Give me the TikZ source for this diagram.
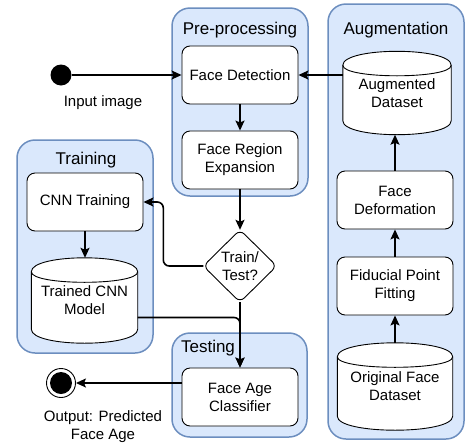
\documentclass[tikz,border=0pt]{standalone}
\usepackage{fontspec}
\setmainfont{Liberation Sans}
\usetikzlibrary{arrows.meta,calc}
\pgfdeclarelayer{bg}
\pgfdeclarelayer{mid}
\pgfsetlayers{bg,mid,main}
\definecolor{grpfill}{HTML}{DAE8FC}
\definecolor{grpdraw}{HTML}{6C8EBF}
\tikzset{
  grp/.style={draw=grpdraw, fill=grpfill, line width=1.5pt, rounded corners=18pt},
  grptitle/.style={font=\fontsize{17}{20}\selectfont, inner sep=0pt},
  box/.style={draw, fill=white, line width=0.9pt, rounded corners=8pt, minimum width=116pt, minimum height=58pt, align=center, font=\fontsize{15}{18}\selectfont, inner sep=0pt},
  txt/.style={align=center, font=\fontsize{15}{18}\selectfont, inner sep=0pt},
  cylline/.style={draw, fill=white, line width=0.9pt},
  conn/.style={line width=1.6pt, -{Stealth[length=10pt,width=9pt,inset=2pt]}, rounded corners=6pt},
}
\newcommand\drawcyl[2]{%
  \begin{pgfonlayer}{mid}
  \draw[cylline] let \p1=(#1.north west), \p2=(#1.south east) in
    (\x1,\y1-#2) .. controls (\x1,\y1+#2/3) and (\x2,\y1+#2/3) .. (\x2,\y1-#2)
    -- (\x2,\y2+#2) .. controls (\x2,\y2-#2/3) and (\x1,\y2-#2/3) .. (\x1,\y2+#2) -- cycle;
  \draw[line width=0.9pt] let \p1=(#1.north west), \p2=(#1.south east) in
    (\x1,\y1-#2) .. controls (\x1,\y1-2*#2) and (\x2,\y1-2*#2) .. (\x2,\y1-#2);
  \end{pgfonlayer}}
\begin{document}
\begin{tikzpicture}[x=1pt,y=-1pt]
\useasboundingbox (0,0) rectangle (466,445);
% containers
\begin{pgfonlayer}{bg}
\draw[grp] (172,8) rectangle (308,196);
\draw[grp] (328,4) rectangle (464,439);
\draw[grp] (17,140) rectangle (153,353);
\draw[grp] (172,333) rectangle (307,437);
\end{pgfonlayer}
% titles
\node[grptitle] (tprep) at (240,30) {Pre-processing};
\node[grptitle] (taug) at (396,30) {Augmentation};
\node[grptitle] (ttrain) at (86,160) {Training};
\node[grptitle] (ttest) at (208,348) {Testing};
% boxes
\node[box] (fd) at (240,75) {Face Detection};
\node[box] (fre) at (240,160) {Face Region\\Expansion};
\node[box] (cnn) at (85,202) {CNN Training};
\node[box] (fac) at (240,397) {Face Age\\Classifier};
\node[box] (fdef) at (395,200) {Face\\Deformation};
\node[box] (fpf) at (395,286) {Fiducial Point\\Fitting};
% cylinders
\node[txt, minimum width=108pt, minimum height=83pt] (augds) at (397,93) {Augmented\\Dataset};
\drawcyl{augds}{14pt}
\node[txt, minimum width=106pt, minimum height=85pt] (tcnn) at (84.5,300.5) {Trained CNN\\Model};
\drawcyl{tcnn}{14pt}
\node[txt, minimum width=115pt, minimum height=87pt] (ofd) at (395,386.5) {Original Face\\Dataset};
\drawcyl{ofd}{14pt}
% decision
\node[txt, minimum width=73pt, minimum height=72pt] (tt) at (240,266) {Train/\\Test?};
\begin{pgfonlayer}{mid}
\draw[cylline, rounded corners=6pt] (tt.north) -- (tt.east) -- (tt.south) -- (tt.west) -- cycle;
\end{pgfonlayer}
% start / end
\node[circle, fill=black, minimum size=21pt, inner sep=0pt] (in) at (61,75) {};
\node[txt] (inlbl) at (103,103) {Input image};
\node[circle, draw, line width=0.9pt, fill=white, minimum size=29pt, inner sep=0pt] (out) at (61,383) {};
\node[circle, fill=black, minimum size=22pt, inner sep=0pt] (outdot) at (out) {};
\node[txt] (outlbl) at (103,427) {Output: Predicted\\Face Age};
% connectors
\draw[conn] (in) -- (fd);
\draw[conn] (augds.west |- fd) -- (fd.east);
\draw[conn] (fd) -- (fre);
\draw[conn] (fre) -- (tt.north);
\draw[conn] (tt.west) -- ++(-40,0) |- (cnn.east);
\draw[conn] (cnn.south) -- (cnn.south |- tcnn.north);
\draw[conn] ([yshift=-17pt]tcnn.east) -| (fac.north);
\draw[conn] (tt.south) -- (fac.north);
\draw[conn] (fac.west |- out) -- (out);
\draw[conn] (ofd.north) -- (fpf.south);
\draw[conn] (fpf) -- (fdef);
\draw[conn] (fdef.north) -- (fdef.north |- augds.south);
\end{tikzpicture}
\end{document}
